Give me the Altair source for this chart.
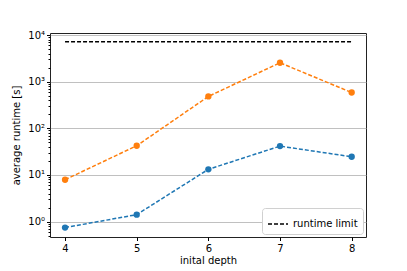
import altair as alt
import pandas as pd

depths = [4, 5, 6, 7, 8]
blue_vals = [0.745, 1.41, 13.2, 41.5, 24.6]
orange_vals = [7.9, 42.3, 482, 2540, 585]
limit_x = [4, 8]
limit_val = 7200
limit_label = "runtime limit"

rows = []
for d, v in zip(depths, blue_vals):
    rows.append({"depth": d, "runtime": v, "series": "a"})
for d, v in zip(depths, orange_vals):
    rows.append({"depth": d, "runtime": v, "series": "b"})
df = pd.DataFrame(rows)
lim = pd.DataFrame({"depth": limit_x, "runtime": [limit_val] * len(limit_x), "label": [limit_label] * len(limit_x)})

ymin, ymax = 10 ** -0.33, 10 ** 4.043
tick_vals = []
for n in range(-1, 5):
    for k in range(1, 10):
        v = k * 10 ** n
        if ymin <= v <= ymax:
            tick_vals.append(v)

is_dec = "abs(log(datum.value)/LN10 - round(log(datum.value)/LN10)) < 1e-6"
label_expr = ("(" + is_dec + ") ? '10' + ['⁰','¹','²','³','⁴'][round(log(datum.value)/LN10)] : ''")

xs = alt.Scale(domain=[3.79, 8.2], nice=False, zero=False)
ys = alt.Scale(type="log", domain=[ymin, ymax], nice=False)

x_enc = alt.X("depth:Q", scale=xs, title="inital depth",
              axis=alt.Axis(values=depths, grid=False, domain=False, tickSize=3.5,
                            tickColor="#000", labelFontSize=10, titleFontSize=10,
                            labelColor="#000", titleColor="#000", titleFontWeight="normal",
                            labelPadding=3, titlePadding=2, format="d"))
y_enc = alt.Y("runtime:Q", scale=ys, title="average runtime [s]",
              axis=alt.Axis(values=tick_vals, labelExpr=label_expr, domain=False,
                            tickSize={"condition": {"test": is_dec, "value": 3.5}, "value": 2},
                            gridOpacity={"condition": {"test": is_dec, "value": 1}, "value": 0},
                            gridColor="#b0b0b0", gridWidth=0.8,
                            tickColor="#000", labelFontSize=10, titleFontSize=10,
                            labelColor="#000", titleColor="#000", titleFontWeight="normal",
                            labelPadding=2, titlePadding=6, labelFlush=False))

color_scale = alt.Scale(domain=["a", "b"], range=["#1f77b4", "#ff7f0e"])

lines = alt.Chart(df).mark_line(strokeDash=[4, 2], strokeWidth=1.5).encode(
    x=x_enc, y=y_enc, color=alt.Color("series:N", scale=color_scale, legend=None), detail="series:N")
points = alt.Chart(df).mark_point(filled=True, size=40, opacity=1, shape="circle").encode(
    x="depth:Q", y="runtime:Q", color=alt.Color("series:N", scale=color_scale, legend=None))
limit = alt.Chart(lim).mark_line(strokeDash=[4, 2], strokeWidth=1.5).encode(
    x="depth:Q", y="runtime:Q",
    stroke=alt.Stroke("label:N", scale=alt.Scale(domain=[limit_label], range=["#000"]),
                      legend=alt.Legend(title=None, orient="bottom-right", offset=3,
                                        symbolType="stroke", symbolDash=[4, 2], symbolStrokeWidth=1.5,
                                        symbolSize=400, labelFontSize=10, labelColor="#000",
                                        fillColor="white", strokeColor="#d0d0d0", cornerRadius=3,
                                        padding=5, symbolStrokeColor="#000")))

chart = alt.layer(lines, points, limit).properties(
    width=316, height=204,
    autosize=alt.AutoSizeParams(type="none"),
    padding={"left": 42, "top": 25, "right": 33, "bottom": 30},
).configure(font="DejaVu Sans", view=alt.ViewConfig(stroke="#222", strokeWidth=1))

chart.save("out.html", embed_options={"renderer": "svg", "actions": False})
